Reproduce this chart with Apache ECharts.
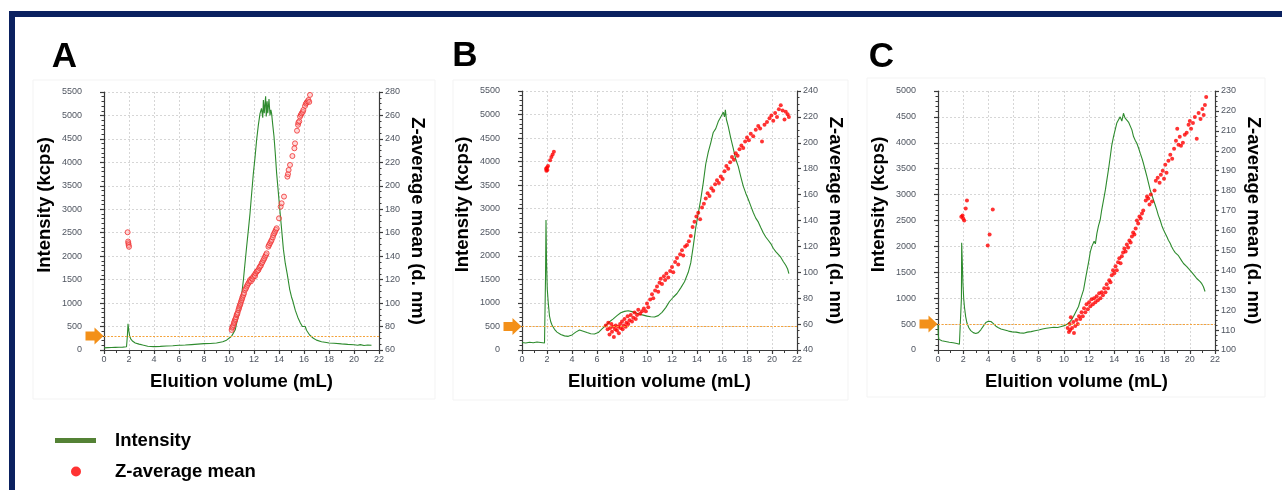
<!DOCTYPE html>
<html>
<head>
<meta charset="utf-8">
<script src="https://cdn.jsdelivr.net/npm/echarts@6/dist/echarts.min.js"></script>
<style>
html,body{margin:0;padding:0;background:#fff;}
#chart{width:1282px;height:490px;}
</style>
</head>
<body>
<div id="chart"></div>
<script>
// ---------- DATA ----------
const panelLetters = ['A', 'B', 'C'];
const xTicks = [0, 22, 2];                 // min, max, interval (mL)
const leftAxisRanges = [[0, 5500, 500], [0, 5500, 500], [0, 5000, 500]];
const rightAxisRanges = [[60, 280, 20], [40, 240, 20], [100, 230, 10]];
const thresholds = [300, 500, 500];        // kcps

const intensityA = [[0,45],[0.3,50],[0.6,52],[0.9,55],[1.2,58],[1.5,62],[1.8,70],[1.87,300],[1.92,560],[1.98,420],[2.05,300],[2.15,230],[2.3,185],[2.5,150],[2.8,125],[3.1,105],[3.5,80],[4.0,72],[4.5,78],[5.0,85],[5.5,92],[6.0,100],[6.1,120],[6.2,100],[6.5,105],[7.0,115],[7.5,125],[8.0,135],[8.5,140],[9.0,150],[9.5,175],[9.8,210],[10.0,250],[10.2,290],[10.35,320],[10.5,430],[10.61,570],[10.75,740],[10.88,920],[11.0,1150],[11.15,1490],[11.28,1850],[11.41,2200],[11.55,2560],[11.68,2910],[11.8,3300],[11.95,3770],[12.08,4100],[12.21,4480],[12.35,4800],[12.48,5040],[12.6,5150],[12.7,4950],[12.75,5330],[12.82,5050],[12.88,5250],[12.93,5410],[12.98,4980],[13.05,5300],[13.1,5050],[13.15,5190],[13.2,5350],[13.28,5000],[13.35,5120],[13.41,5040],[13.5,4800],[13.6,4550],[13.7,4200],[13.81,3770],[13.95,3350],[14.08,2950],[14.2,2600],[14.35,2150],[14.5,1850],[14.67,1600],[14.85,1300],[15.0,1130],[15.1,1050],[15.3,850],[15.5,700],[15.7,580],[15.87,500],[16.0,470],[16.1,500],[16.2,420],[16.45,320],[16.75,250],[17.0,210],[17.4,177],[17.8,160],[18.0,150],[18.4,143],[19.0,130],[19.5,120],[20.0,112],[20.3,100],[20.5,115],[20.8,95],[21.1,105],[21.4,100]];

const zAverageA = [[1.89,160.4],[1.93,152.5],[1.95,151],[1.97,149.5],[2.0,148],[10.21,77.1],[10.25,79],[10.29,79.9],[10.35,81.3],[10.4,83],[10.43,84.2],[10.48,85.6],[10.52,86.5],[10.56,87.9],[10.61,89.8],[10.65,90.5],[10.69,91.8],[10.75,94.1],[10.8,95.5],[10.83,97.0],[10.88,98.4],[10.92,99.5],[10.96,101.2],[11.01,102.6],[11.05,104],[11.09,105.5],[11.15,106.9],[11.2,108.5],[11.28,111.2],[11.35,112.5],[11.41,114.0],[11.48,115.5],[11.55,116.9],[11.63,118.3],[11.68,119.7],[11.75,118.5],[11.81,121.1],[11.88,120.5],[11.95,122.5],[12.03,124.0],[12.08,123],[12.13,125.4],[12.21,126.8],[12.28,127.5],[12.35,128.2],[12.42,130],[12.48,131.1],[12.55,132],[12.61,133.9],[12.68,135],[12.75,136.7],[12.82,138],[12.88,139.6],[12.95,141],[13.01,142.4],[13.15,148.1],[13.2,149.5],[13.28,151.0],[13.35,152.5],[13.41,153.8],[13.5,156],[13.55,158.1],[13.62,159.5],[13.68,160.9],[13.75,162.5],[13.81,163.8],[14.0,172.3],[14.13,182.2],[14.21,185.1],[14.4,190.8],[14.67,207.8],[14.72,210],[14.77,213.5],[14.88,217.8],[15.07,225.4],[15.23,232.0],[15.28,236.2],[15.44,247.0],[15.52,252],[15.55,253.9],[15.62,255],[15.68,259.0],[15.75,260.5],[15.81,261.8],[15.9,263],[15.95,264.7],[16.08,268.1],[16.15,270],[16.21,270.9],[16.3,272],[16.35,273.2],[16.42,271.5],[16.48,277.5]];

const intensityB = [[0,160],[0.3,150],[0.6,165],[0.9,155],[1.2,170],[1.5,160],[1.8,150],[1.85,140],[1.88,1500],[1.92,2760],[1.96,1900],[2.02,1300],[2.1,1000],[2.2,720],[2.3,600],[2.4,530],[2.6,440],[2.8,380],[3.1,330],[3.4,300],[3.7,290],[4.0,320],[4.3,380],[4.6,425],[4.9,400],[5.2,370],[5.5,345],[5.8,340],[6.1,370],[6.4,450],[6.7,520],[7.0,600],[7.3,660],[7.6,730],[7.9,790],[8.2,820],[8.5,835],[8.8,815],[9.1,790],[9.4,760],[9.7,740],[10.0,720],[10.3,705],[10.6,700],[10.9,730],[11.2,800],[11.5,900],[11.8,1030],[12.1,1120],[12.4,1200],[12.7,1320],[13.0,1450],[13.3,1650],[13.5,1850],[13.7,2200],[13.9,2600],[14.1,2900],[14.3,3200],[14.5,3550],[14.7,3950],[14.9,4200],[15.1,4400],[15.3,4620],[15.5,4700],[15.7,4850],[15.9,4950],[16.1,5050],[16.2,4950],[16.27,5100],[16.35,4900],[16.5,4750],[16.7,4500],[16.9,4280],[17.1,4050],[17.3,3900],[17.5,3680],[17.7,3480],[17.9,3330],[18.1,3200],[18.3,3060],[18.5,2920],[18.7,2800],[18.9,2720],[19.1,2600],[19.3,2490],[19.5,2400],[19.7,2330],[19.9,2260],[20.1,2160],[20.3,2090],[20.5,2030],[20.7,1970],[20.9,1880],[21.1,1800],[21.25,1720],[21.35,1620]];

const zAverageB = [[1.92,180],[1.95,178.5],[2.0,181],[2.03,179],[2.08,182],[2.25,186.5],[2.35,189],[2.45,191],[2.55,193],[6.7,59],[6.85,56],[6.9,61],[7.0,52],[7.05,57],[7.15,60],[7.2,54],[7.3,58],[7.35,50],[7.45,56],[7.5,59],[7.6,55],[7.7,58],[7.75,53],[7.85,60],[7.9,57],[8.0,62],[8.05,56],[8.15,59],[8.2,64],[8.3,58],[8.35,61],[8.45,66],[8.5,60],[8.6,63],[8.7,67],[8.8,62],[8.9,65],[9.0,69],[9.1,64],[9.2,67],[9.3,71],[9.45,68],[9.6,70],[9.75,72],[9.9,70],[10.0,76],[10.1,73],[10.25,79],[10.4,83],[10.5,80],[10.65,86],[10.8,89],[10.9,85],[11.0,92],[11.1,95],[11.2,91],[11.35,97],[11.45,94],[11.55,99],[11.7,96],[11.85,101],[12.0,104],[12.1,100],[12.25,108],[12.4,111],[12.5,106],[12.65,114],[12.8,117],[12.9,113],[13.05,120],[13.2,121],[13.35,124],[13.5,128],[13.65,135],[13.8,139],[13.95,143],[14.1,146],[14.25,141],[14.4,150],[14.55,153],[14.7,157],[14.85,161],[15.0,159],[15.15,165],[15.3,163],[15.45,168],[15.6,171],[15.75,169],[15.9,174],[16.05,172],[16.2,178],[16.35,182],[16.5,180],[16.65,185],[16.8,189],[16.95,187],[17.1,192],[17.25,190],[17.4,195],[17.55,198],[17.7,196],[17.85,201],[18.0,204],[18.15,202],[18.3,207],[18.5,205],[18.7,210],[18.9,213],[19.05,211],[19.2,201],[19.4,214],[19.6,216],[19.8,219],[19.95,221],[20.1,217],[20.25,223],[20.4,220],[20.55,226],[20.7,229],[20.85,225],[21.0,218],[21.1,224],[21.25,222],[21.35,220]];

const intensityC = [[0,480],[0.02,300],[0.06,210],[0.3,180],[0.6,165],[0.9,150],[1.2,140],[1.5,125],[1.7,110],[1.83,100],[1.86,1000],[1.88,2070],[1.93,1700],[1.98,1290],[2.04,1000],[2.1,830],[2.2,640],[2.3,520],[2.45,430],[2.6,375],[2.8,335],[3.0,320],[3.2,335],[3.4,390],[3.6,460],[3.8,530],[4.0,555],[4.2,550],[4.4,510],[4.6,460],[4.8,430],[5.0,405],[5.3,385],[5.6,365],[5.9,350],[6.2,345],[6.5,330],[6.8,325],[7.1,345],[7.4,355],[7.7,370],[8.0,385],[8.3,405],[8.6,420],[8.9,430],[9.2,440],[9.5,435],[9.8,455],[10.1,475],[10.37,515],[10.6,580],[10.77,650],[10.95,740],[11.16,840],[11.35,1000],[11.56,1160],[11.75,1420],[11.95,1680],[12.1,1900],[12.22,2000],[12.4,2100],[12.5,2050],[12.62,2250],[12.75,2400],[12.88,2510],[13.0,2700],[13.15,2900],[13.3,3100],[13.41,3280],[13.55,3500],[13.68,3730],[13.8,3950],[13.94,4120],[14.07,4250],[14.2,4380],[14.35,4450],[14.47,4500],[14.6,4420],[14.73,4570],[14.85,4480],[15.0,4470],[15.13,4400],[15.26,4380],[15.4,4250],[15.53,4120],[15.66,4050],[15.79,3990],[15.93,3900],[16.06,3800],[16.2,3700],[16.32,3600],[16.45,3480],[16.59,3350],[16.72,3220],[16.85,3090],[17.0,2980],[17.11,2900],[17.25,2800],[17.38,2700],[17.5,2600],[17.64,2510],[17.78,2400],[17.91,2320],[18.05,2250],[18.17,2190],[18.3,2120],[18.44,2060],[18.57,1990],[18.7,1930],[18.84,1880],[18.97,1870],[19.1,1820],[19.23,1800],[19.36,1720],[19.5,1670],[19.63,1650],[19.76,1610],[19.9,1570],[20.03,1540],[20.16,1500],[20.29,1480],[20.42,1420],[20.55,1380],[20.68,1350],[20.82,1320],[20.95,1280],[21.08,1220],[21.21,1130]];

const zAverageC = [[1.85,166.9],[1.95,167.5],[2.0,166],[2.08,165],[2.2,171],[2.3,175],[3.95,152.5],[4.1,158],[4.35,170.5],[10.3,111],[10.4,109],[10.45,113],[10.5,110],[10.55,116.5],[10.65,111],[10.75,114],[10.8,108.5],[10.9,112],[11.0,115],[11.1,113],[11.2,117],[11.3,115.5],[11.4,119],[11.5,117],[11.6,121],[11.7,119],[11.8,123],[11.9,120.5],[12.0,124],[12.1,122],[12.2,125.5],[12.3,123],[12.4,126],[12.5,124],[12.6,127],[12.7,125],[12.8,128.5],[12.9,126],[13.0,129],[13.1,127.5],[13.2,131],[13.3,129],[13.4,133],[13.5,131],[13.6,135],[13.7,134],[13.8,137.5],[13.9,140],[14.0,138.5],[14.1,142],[14.2,140],[14.3,144],[14.4,146],[14.5,143.5],[14.6,147],[14.7,149],[14.8,151],[14.9,149.5],[15.0,153],[15.1,151.5],[15.2,155],[15.3,154],[15.4,157],[15.5,159],[15.6,158],[15.7,161],[15.8,165],[15.9,163.5],[16.0,167],[16.1,166],[16.2,168.5],[16.3,170],[16.5,175],[16.6,177],[16.7,176],[16.8,173],[16.9,178],[17.0,174.5],[17.2,180],[17.3,185],[17.45,186.5],[17.6,184],[17.7,188],[17.85,190],[17.95,186],[18.05,193],[18.15,189],[18.3,195],[18.45,198],[18.6,196],[18.75,201],[18.9,205],[19.0,211],[19.1,203],[19.2,207],[19.3,202.5],[19.45,204],[19.6,208],[19.75,209],[19.9,213],[20.0,215],[20.1,211],[20.25,214],[20.4,217],[20.55,206],[20.7,219],[20.85,216],[21.0,221],[21.1,218],[21.2,223],[21.3,227]];

const intensitySeries = [intensityA, intensityB, intensityC];
const zAverageSeries = [zAverageA, zAverageB, zAverageC];
const legendNames = ['Intensity', 'Z-average mean'];
const axisNames = { x: 'Eluition volume (mL)', left: 'Intensity (kcps)', right: 'Z-average mean (d. nm)' };

// ---------- LAYOUT ----------
const FONT = 'Liberation Sans, Arial, sans-serif';
const grids = [
  { left: 104, top: 92, width: 275, height: 258 },
  { left: 522, top: 91, width: 275, height: 259 },
  { left: 938, top: 91, width: 277, height: 259 }
];
const letterPos = [[64.5, 57.5], [465, 56.5], [881.5, 57.5]];
const tickColor = '#4f5560';
const axisLineStyle = { color: '#3a3a3a', width: 1.2 };
const gridLineStyle = { color: '#d6d6d6', type: [2, 2], width: 1 };
const plainNum = v => String(v);
function nameStyle(extra) {
  return Object.assign({ fontFamily: FONT, fontWeight: 'bold', fontSize: 18.5, color: '#000' }, extra || {});
}
const arrowPath = 'path://M0,4 L9,4 L9,0 L18,8.5 L9,17 L9,13 L0,13 Z';

const xAxes = [], yAxes = [], series = [];
grids.forEach((g, i) => {
  xAxes.push({
    type: 'value', gridIndex: i, min: xTicks[0], max: xTicks[1], interval: xTicks[2],
    name: axisNames.x, nameLocation: 'middle', nameGap: 22, nameTextStyle: nameStyle(),
    axisLine: { show: true, onZero: false, lineStyle: axisLineStyle },
    axisTick: { show: true, length: 4, lineStyle: axisLineStyle },
    minorTick: { show: true, splitNumber: 2, length: 3, lineStyle: { color: '#3a3a3a' } },
    axisLabel: { fontFamily: FONT, fontSize: 9, color: tickColor, margin: 5, formatter: plainNum },
    splitLine: { show: true, lineStyle: gridLineStyle }
  });
  const L = leftAxisRanges[i], R = rightAxisRanges[i];
  yAxes.push({
    type: 'value', gridIndex: i, position: 'left', min: L[0], max: L[1], interval: L[2],
    name: axisNames.left, nameLocation: 'middle', nameGap: 50,
    nameTextStyle: nameStyle({ padding: [0, 0, 0, 32] }),
    axisLine: { show: true, lineStyle: axisLineStyle },
    axisTick: { show: true, length: 4, lineStyle: axisLineStyle },
    minorTick: { show: true, splitNumber: 5, length: 2.5, lineStyle: { color: '#3a3a3a' } },
    axisLabel: { fontFamily: FONT, fontSize: 9, color: tickColor, margin: 22, formatter: plainNum },
    splitLine: { show: true, lineStyle: gridLineStyle }
  });
  yAxes.push({
    type: 'value', gridIndex: i, position: 'right', min: R[0], max: R[1], interval: R[2],
    name: axisNames.right, nameLocation: 'middle', nameGap: 29, nameRotate: -90,
    nameTextStyle: nameStyle(),
    axisLine: { show: true, lineStyle: axisLineStyle },
    axisTick: { show: true, length: 4, lineStyle: axisLineStyle },
    minorTick: { show: true, splitNumber: 4, length: 2.5, lineStyle: { color: '#3a3a3a' } },
    axisLabel: { fontFamily: FONT, fontSize: 9, color: tickColor, margin: 6, formatter: plainNum },
    splitLine: { show: false }
  });
  series.push({
    name: legendNames[0], type: 'line', xAxisIndex: i, yAxisIndex: 2 * i,
    data: intensitySeries[i], symbol: 'none', showSymbol: false, z: 3,
    color: '#2e8b2e', lineStyle: { color: '#2e8b2e', width: 1.1 },
    markLine: {
      silent: true, symbol: 'none', label: { show: false },
      lineStyle: { color: '#f5a33a', type: [2, 1.5], width: 1 },
      data: [{ yAxis: thresholds[i] }]
    },
    markPoint: {
      silent: true, symbol: arrowPath, symbolSize: [18, 17], symbolOffset: [-9.5, 0],
      itemStyle: { color: '#f39019' }, label: { show: false },
      data: [{ coord: [xTicks[0], thresholds[i]] }]
    }
  });
  series.push({
    name: legendNames[1], type: 'scatter', xAxisIndex: i, yAxisIndex: 2 * i + 1,
    data: zAverageSeries[i], z: 4,
    symbolSize: i === 0 ? 5 : 4,
    itemStyle: i === 0
      ? { color: 'rgba(255,170,170,0.55)', borderColor: '#f03030', borderWidth: 1 }
      : { color: '#ff0000', borderWidth: 0 }
  });
});

const graphics = [
  { type: 'rect', shape: { x: 9, y: 11, width: 1273, height: 6 }, style: { fill: '#0b2160' }, silent: true },
  { type: 'rect', shape: { x: 9, y: 11, width: 6, height: 479 }, style: { fill: '#0b2160' }, silent: true },
  { type: 'rect', shape: { x: 33, y: 80, width: 402, height: 319 }, style: { fill: 'none', stroke: '#f3f3f3', lineWidth: 1 }, silent: true, z: -1 },
  { type: 'rect', shape: { x: 453, y: 80, width: 395, height: 320 }, style: { fill: 'none', stroke: '#f3f3f3', lineWidth: 1 }, silent: true, z: -1 },
  { type: 'rect', shape: { x: 867, y: 78, width: 398, height: 319 }, style: { fill: 'none', stroke: '#f3f3f3', lineWidth: 1 }, silent: true, z: -1 }
];
panelLetters.forEach((t, i) => {
  graphics.push({
    type: 'text', x: letterPos[i][0], y: letterPos[i][1], silent: true,
    style: { text: t, fontFamily: FONT, fontWeight: 'bold', fontSize: 35, fill: '#000', align: 'center', verticalAlign: 'middle' }
  });
});

const option = {
  animation: false,
  backgroundColor: '#fff',
  grid: grids,
  xAxis: xAxes,
  yAxis: yAxes,
  legend: [
    { data: [legendNames[0]], left: 50, top: 426, icon: 'rect', itemWidth: 41, itemHeight: 5,
      selectedMode: false, itemStyle: { color: '#548235' },
      textStyle: nameStyle({ padding: [0, 0, 0, 14] }) },
    { data: [legendNames[1]], left: 66, top: 457, icon: 'circle', itemWidth: 10, itemHeight: 10,
      selectedMode: false, itemStyle: { color: '#ff0000', borderWidth: 0 },
      textStyle: nameStyle({ padding: [0, 0, 0, 29] }) }
  ],
  graphic: graphics,
  series: series
};

const chart = echarts.init(document.getElementById('chart'), null, { renderer: 'canvas' });
chart.setOption(option);
</script>
</body>
</html>
